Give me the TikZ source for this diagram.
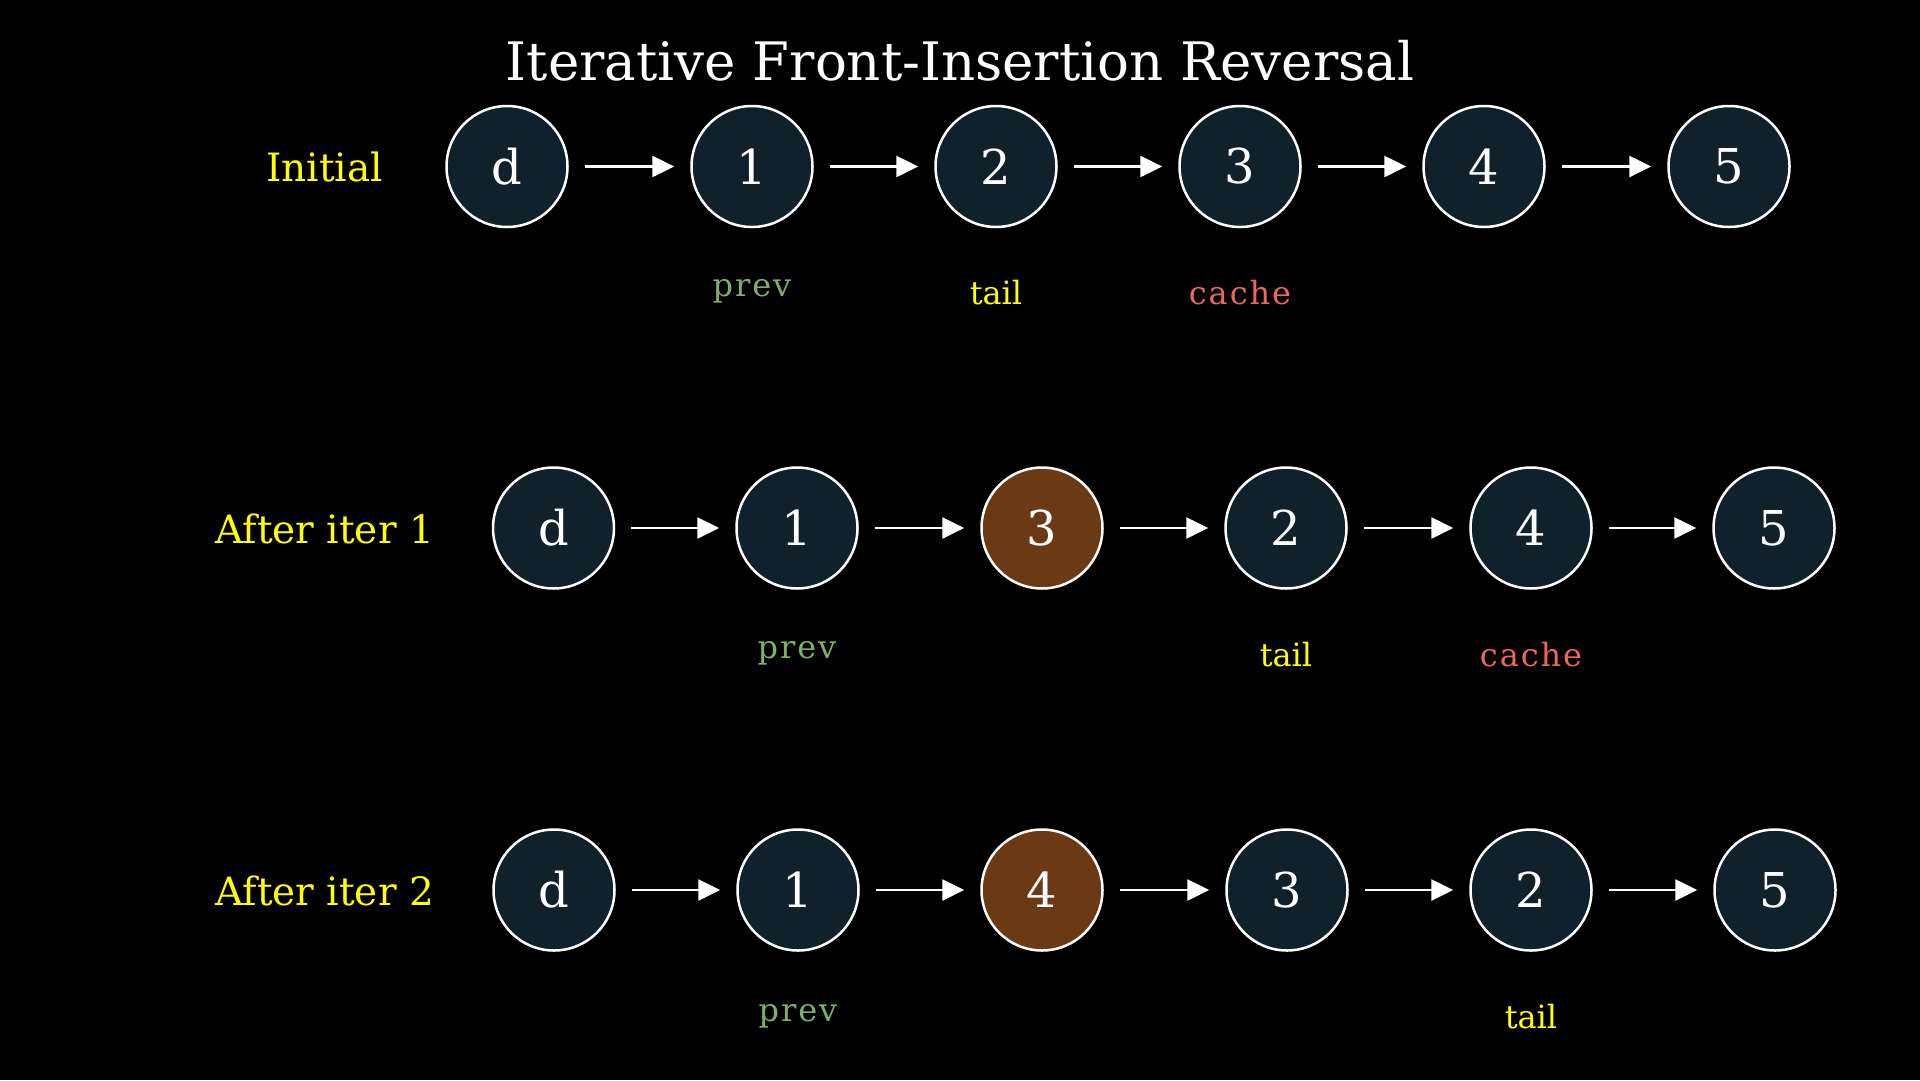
\documentclass[tikz,border=0pt]{standalone}
\usepackage{fontspec}
\setmainfont{DejaVu Serif}
\usetikzlibrary{arrows.meta}
\definecolor{navy}{HTML}{0F212B}
\definecolor{brownn}{HTML}{6B3A15}
\definecolor{prevc}{HTML}{7FB069}
\definecolor{cachec}{HTML}{EC685D}
\definecolor{tailc}{HTML}{FFFF00}
\tikzset{
  lnode/.style={circle, draw=white, line width=2.5pt, fill=navy, minimum size=121pt, inner sep=0pt, text=white, font=\fontsize{48}{48}\selectfont},
  hnode/.style={lnode, fill=brownn},
  link/.style={draw=white, line width=2.6pt, -{Triangle[length=22pt,width=21pt]}, shorten <=16pt, shorten >=16pt},
  rowlabel/.style={text=tailc, font=\fontsize{39}{39}\selectfont},
  ptr/.style={font=\fontsize{32}{32}\selectfont},
  spaced/.style={font=\fontsize{32}{32}\selectfont\addfontfeature{LetterSpace=6}},
  title/.style={text=white, font=\fontsize{53}{53}\selectfont}
}
\begin{document}
\begin{tikzpicture}[x=1pt,y=-1pt]
\fill[black] (0,0) rectangle (1920,1080);
\useasboundingbox (0,0) rectangle (1920,1080);
\node[title] (t) at (960,61) {Iterative Front-Insertion Reversal};
% row 1
\node[rowlabel] (l1) at (324.5,166.5) {Initial};
\node[lnode] (a0) at (507,166.5) {d};
\node[lnode] (a1) at (752,166.5) {1};
\node[lnode] (a2) at (996,166.5) {2};
\node[lnode] (a3) at (1240,166.5) {3};
\node[lnode] (a4) at (1484,166.5) {4};
\node[lnode] (a5) at (1729,166.5) {5};
\foreach \i/\j in {a0/a1,a1/a2,a2/a3,a3/a4,a4/a5} \draw[link] (\i) -- (\j);
\node[spaced, text=prevc] (ap) at (752,291.5) {prev};
\node[ptr, text=tailc] (at) at (996,292.5) {tail};
\node[spaced, text=cachec] (ac) at (1240,292.5) {cache};
% row 2
\node[rowlabel] (l2) at (324.5,529) {After iter 1};
\node[lnode] (b0) at (553.5,528) {d};
\node[lnode] (b1) at (797,528) {1};
\node[hnode] (b2) at (1042,528) {3};
\node[lnode] (b3) at (1286,528) {2};
\node[lnode] (b4) at (1531,528) {4};
\node[lnode] (b5) at (1774,528) {5};
\foreach \i/\j in {b0/b1,b1/b2,b2/b3,b3/b4,b4/b5} \draw[link] (\i) -- (\j);
\node[spaced, text=prevc] (bp) at (797,653) {prev};
\node[ptr, text=tailc] (bt) at (1286,654.5) {tail};
\node[spaced, text=cachec] (bc) at (1531,654.5) {cache};
% row 3
\node[rowlabel] (l3) at (324.5,891) {After iter 2};
\node[lnode] (c0) at (554,890) {d};
\node[lnode] (c1) at (798,890) {1};
\node[hnode] (c2) at (1042,890) {4};
\node[lnode] (c3) at (1287,890) {3};
\node[lnode] (c4) at (1531,890) {2};
\node[lnode] (c5) at (1775,890) {5};
\foreach \i/\j in {c0/c1,c1/c2,c2/c3,c3/c4,c4/c5} \draw[link] (\i) -- (\j);
\node[spaced, text=prevc] (cp) at (798,1016) {prev};
\node[ptr, text=tailc] (ct) at (1531,1017) {tail};
\end{tikzpicture}
\end{document}
